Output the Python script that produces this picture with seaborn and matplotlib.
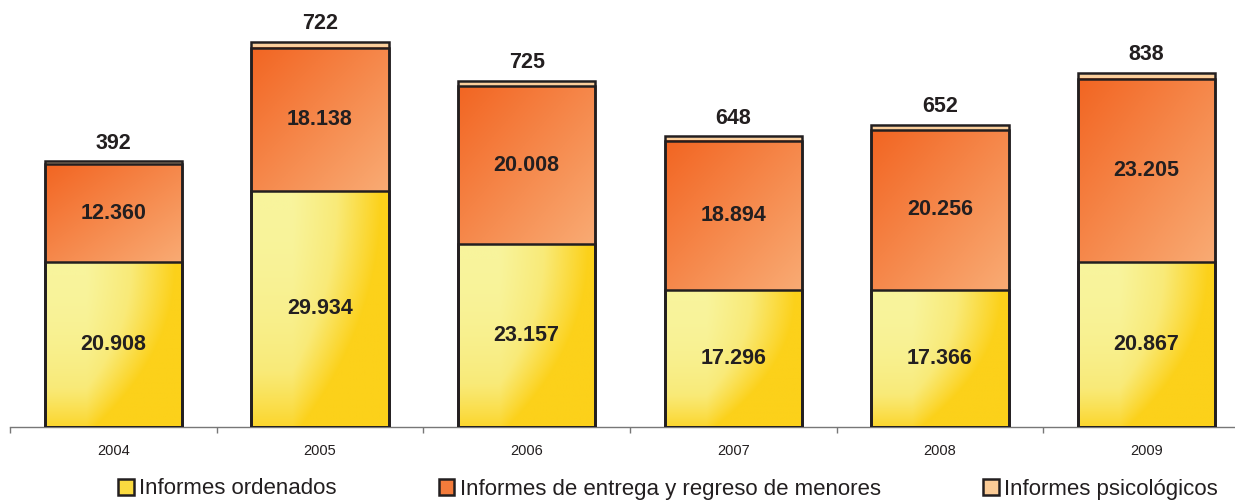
import numpy as np
import pandas as pd
import matplotlib.pyplot as plt
import seaborn as sns
from matplotlib.patches import Patch
from matplotlib.colors import LinearSegmentedColormap

years = ["2004", "2005", "2006", "2007", "2008", "2009"]
ordenados = [20908, 29934, 23157, 17296, 17366, 20867]
entrega = [12360, 18138, 20008, 18894, 20256, 23205]
psicologicos = [392, 722, 725, 648, 652, 838]
legend_labels = ["Informes ordenados", "Informes de entrega y regreso de menores", "Informes psicológicos"]

df = pd.DataFrame({"year": years, "ordenados": ordenados,
                   "entrega": entrega, "psico": psicologicos})
df["mid"] = df["ordenados"] + df["entrega"]
df["total"] = df["mid"] + df["psico"]

sns.set_style("white")
plt.rcParams["font.family"] = ["Liberation Sans", "DejaVu Sans"]

ink = "#231f20"
fig = plt.figure(figsize=(12.35, 5.04), dpi=100)
ax = fig.add_axes([10 / 1235, 77 / 504, 1240 / 1235, 427 / 504])

# full height bars in the peach colour (top segment)
sns.barplot(data=df, x="year", y="total", color="#fbcf9c", saturation=1,
            width=0.665, errorbar=None, ax=ax, zorder=1)
bars = list(ax.patches)

# gradient fills for the two lower segments
yel = LinearSegmentedColormap.from_list("yel", ["#f8f49c", "#f9ea78", "#fcd11a"])
org = LinearSegmentedColormap.from_list("org", ["#f26522", "#f9ab74"])
u, v = np.meshgrid(np.linspace(0, 1, 120), np.linspace(0, 1, 200))
t_yel = np.clip(np.clip((u - 0.3) / 0.65, 0, 1) + 0.9 * v ** 2.2, 0, 1)
t_org = (u + v) / 2
for bar, lo, mid in zip(bars, df["ordenados"], df["mid"]):
    x0, x1 = bar.get_x(), bar.get_x() + bar.get_width()
    ax.imshow(yel(t_yel), extent=(x0, x1, 0, lo), aspect="auto",
              zorder=2, interpolation="bilinear")
    ax.imshow(org(t_org), extent=(x0, x1, lo, mid), aspect="auto",
              zorder=2, interpolation="bilinear")

# outlines
for col in ["total", "mid", "ordenados"]:
    sns.barplot(data=df, x="year", y=col, fill=False, color=ink, linewidth=1.8,
                width=0.665, errorbar=None, ax=ax, zorder=3)

def fmt(n):
    return f"{n:,}".replace(",", ".")

for i, r in df.iterrows():
    ax.text(i, r["ordenados"] / 2, fmt(r["ordenados"]), ha="center", va="center",
            fontsize=15.5, fontweight="bold", color=ink, zorder=4)
    ax.text(i, r["ordenados"] + r["entrega"] / 2, fmt(r["entrega"]), ha="center",
            va="center", fontsize=15.5, fontweight="bold", color=ink, zorder=4)
    ax.annotate(str(r["psico"]), (i, r["total"]), xytext=(0, 9),
                textcoords="offset points", ha="center", va="baseline",
                fontsize=15.5, fontweight="bold", color=ink)

ax.set_xlim(-0.5, 5.5)
ax.set_ylim(0, 54100)
ax.set_yticks([])
ax.set_xlabel("")
ax.set_ylabel("")
sns.despine(ax=ax, left=True)
ax.spines["bottom"].set_color("#777777")
ax.spines["bottom"].set_linewidth(1)
ax.set_xticks(np.arange(-0.5, 6, 1), minor=True)
ax.tick_params(axis="x", which="major", length=0, labelsize=10.5, pad=12, colors=ink)
ax.tick_params(axis="x", which="minor", bottom=True, length=4, width=1,
               color="#777777", direction="out")

handles = [Patch(facecolor=c, edgecolor=ink, linewidth=1.8)
           for c in ["#fbdb40", "#f37b3b", "#fbcb96"]]
fig.legend(handles, legend_labels, loc="center", bbox_to_anchor=(668 / 1235, 15 / 504),
           ncol=3, frameon=False, fontsize=16, handlelength=0.7, handleheight=0.7,
           handletextpad=0.25, columnspacing=4.6, labelcolor=ink)

fig.savefig("out.png", dpi=100)
